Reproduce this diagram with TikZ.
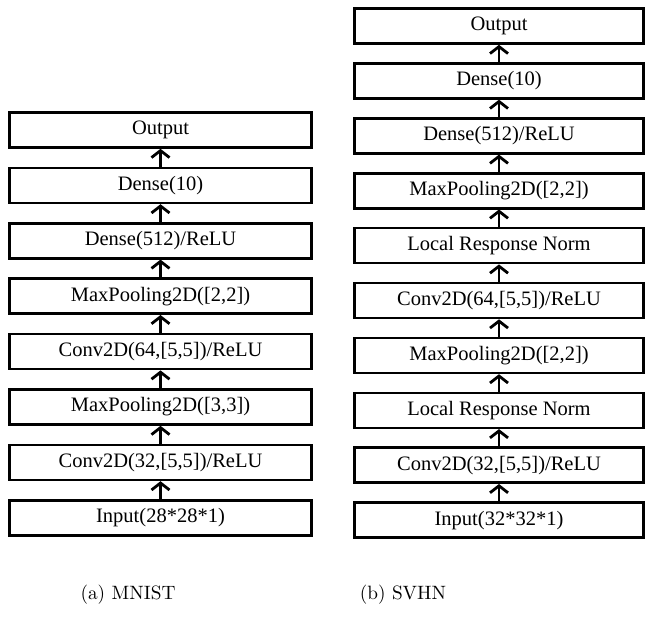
\documentclass[tikz,border=0pt]{standalone}
\usepackage{fontspec}
\newfontfamily\boxfont{Liberation Serif}
\usetikzlibrary{arrows.meta}
\begin{document}
\begin{tikzpicture}[x=1pt,y=-1pt,
  layerbox/.style={draw,line width=2.6pt,minimum height=35pt,inner sep=0pt,font=\boxfont\fontsize{20.5}{24}\selectfont},
  lbox/.style={layerbox,minimum width=302pt},
  rbox/.style={layerbox,minimum width=289pt},
  flow/.style={line width=2.8pt,-{Straight Barb[length=7pt,width=18pt,line width=2.8pt]}},
  captext/.style={font=\fontsize{10}{12}\selectfont}]
\useasboundingbox (0,0) rectangle (648,624);
% left column
\foreach \n/\t [count=\i from 0] in {l0/Output,l1/Dense(10),l2/{Dense(512)/ReLU},l3/{MaxPooling2D([2,2])},l4/{Conv2D(64,[5,5])/ReLU},l5/{MaxPooling2D([3,3])},l6/{Conv2D(32,[5,5])/ReLU},l7/Input(28*28*1)}
  \node[lbox] (\n) at (160.5,{130+55.4*\i}) {\t};
\foreach \a/\b in {l1/l0,l2/l1,l3/l2,l4/l3,l5/l4,l6/l5,l7/l6}
  \draw[flow] (\a.north) -- (\b.south);
% right column
\foreach \n/\t [count=\i from 0] in {r0/Output,r1/Dense(10),r2/{Dense(512)/ReLU},r3/{MaxPooling2D([2,2])},r4/Local Response Norm,r5/{Conv2D(64,[5,5])/ReLU},r6/{MaxPooling2D([2,2])},r7/Local Response Norm,r8/{Conv2D(32,[5,5])/ReLU},r9/Input(32*32*1)}
  \node[rbox] (\n) at (499,{26+54.9*\i}) {\t};
\foreach \a/\b in {r1/r0,r2/r1,r3/r2,r4/r3,r5/r4,r6/r5,r7/r6,r8/r7,r9/r8}
  \draw[flow] (\a.north) -- (\b.south);
% captions
\node[captext] (ca) at (128,595) {\scalebox{1.93}{(a) MNIST}};
\node[captext] (cb) at (403,595) {\scalebox{1.93}{(b) SVHN}};
\end{tikzpicture}
\end{document}
